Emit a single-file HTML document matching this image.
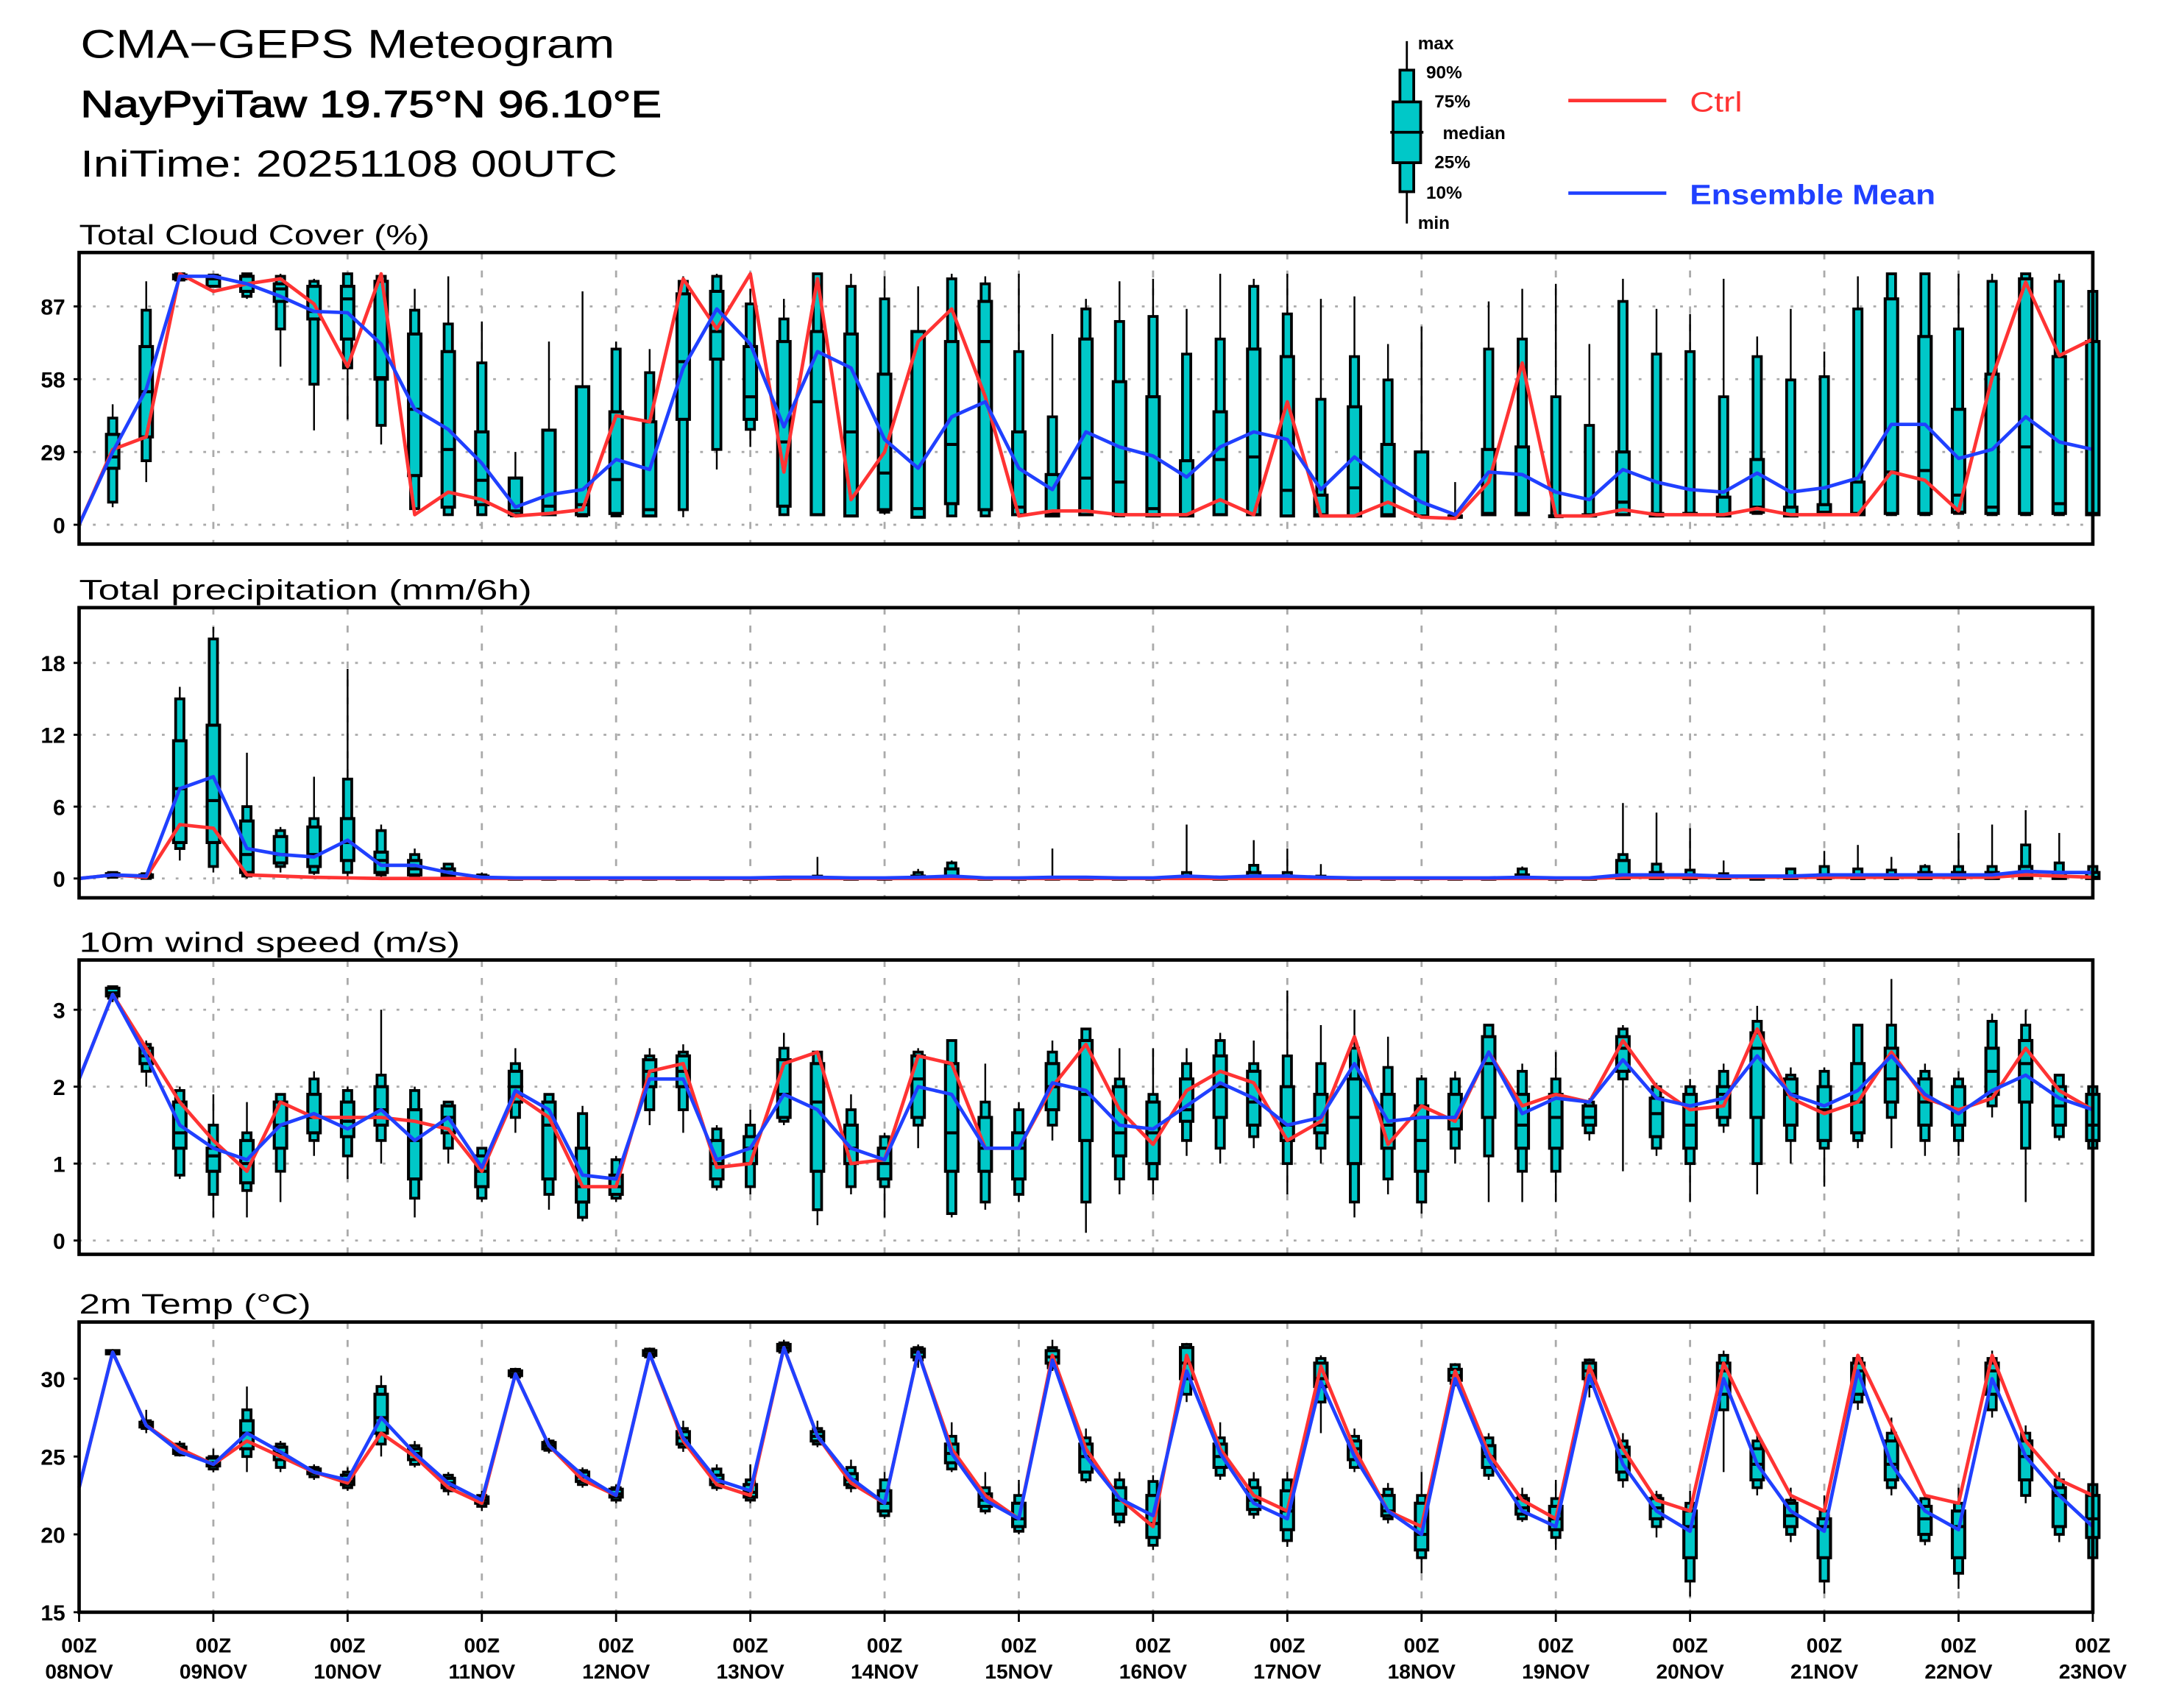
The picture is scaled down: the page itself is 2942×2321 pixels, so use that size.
<!DOCTYPE html>
<html><head><meta charset="utf-8"><style>
html,body{margin:0;padding:0;background:#fff;}
svg{display:block;}
text{font-family:"Liberation Sans",sans-serif;}
</style></head><body>
<svg id="chart" xmlns="http://www.w3.org/2000/svg" width="2942" height="2321" viewBox="0 0 1560 1231" preserveAspectRatio="none">
<g transform="matrix(0.9945,0,0,0.9959,-0.68,-0.25)">
<text x="59" y="42" font-size="29" textLength="387" lengthAdjust="spacingAndGlyphs">CMA−GEPS Meteogram</text>
<text x="59" y="85" font-size="27" stroke="#000" stroke-width="0.6" textLength="421" lengthAdjust="spacingAndGlyphs">NayPyiTaw 19.75°N 96.10°E</text>
<text x="59" y="128" font-size="27" textLength="389" lengthAdjust="spacingAndGlyphs">IniTime: 20251108 00UTC</text>
<g>
<line x1="1020" y1="30" x2="1020" y2="162" stroke="#000" stroke-width="1.5"/>
<rect x="1015" y="51" width="10" height="88" fill="#00c8c8" stroke="#000" stroke-width="2"/>
<rect x="1010" y="74" width="20" height="44" fill="#00c8c8" stroke="#000" stroke-width="2"/>
<line x1="1008" y1="96" x2="1032" y2="96" stroke="#000" stroke-width="2"/>
<g font-size="13" font-weight="bold">
<text x="1028" y="36">max</text><text x="1034" y="57">90%</text><text x="1040" y="78">75%</text>
<text x="1046" y="101">median</text><text x="1040" y="122">25%</text><text x="1034" y="144">10%</text><text x="1028" y="166">min</text></g>
</g>
<g>
<line x1="1137" y1="73" x2="1208" y2="73" stroke="#ff3333" stroke-width="2.5"/>
<text x="1225" y="81" font-size="20" fill="#ff3333" textLength="38" lengthAdjust="spacingAndGlyphs">Ctrl</text></g>
<g>
<line x1="1137" y1="140" x2="1208" y2="140" stroke="#2040ff" stroke-width="2.5"/>
<text x="1225" y="148" font-size="20" font-weight="bold" fill="#2040ff" textLength="178" lengthAdjust="spacingAndGlyphs">Ensemble Mean</text></g>
<g id="plots"></g>
</g>
</svg>
<script>
// ---- Cloud cover (%) ----
const cloudCtrl=[0,30,35,100,93,96,98,88,63,100,4,13,10,3.5,4.5,6,43.5,41,98,78,100,21,98,10,29,73,86,51,3.5,5.5,5.5,4,4,4,10,4,49,3.5,3.5,9,3,2.5,17,64.5,3.5,3.5,6,4,4,4,6.5,4,4,4,21,17.7,5.5,58.6,96.7,67.4,74];
const cloudMean=[0,29,54,99,99,96,91,85,84.5,72,46,38,24.5,7,12,14,26,22,62.5,86,72,39,69,62.5,34,22.5,43,49,22.5,14,37,31,27.4,19,31,37,34,14,27,17,9,4,21,20,13,10,22,17,14,13,20.6,13,14.7,18.6,40,40,26.4,30,43,33,30];
const cloudBoxes=[[7,9,22.5,27,36,42.5,48],[17,25.5,35,53,71,85.5,97],[97,97.5,98,99,99.5,100,100],[94.7,95,95,98,99,99.5,100],[90,91,93,96,99,100,100],[63,78,89,94,96,99,100],[37.6,56,82,85,95,97,98],[42,62.5,74,90,95,100,100],[32,39.6,58,58.6,97,99,100],[6,6.4,19.6,46,76,85.5,94],
[3.5,4,7,30,69,80,99],[3.5,4,8,17.7,37,64.5,81],[3,3.5,4,5.5,18.6,18.6,29],[3.5,4,4,7.4,37.7,37.7,73],[3,3.5,4,8,55,55,93],[3,3.5,4.5,18,45,70,73],[3,3.5,3.5,6,41,60.6,70],[3,6,42,65,92,97,99],[22,30,66,77,93,99,100],[31,38,42,51,71,88,94],
[3.5,4,7.4,33,73,82,90],[3.5,4,4,49,77,100,100],[3.5,3.5,3.5,37,76,95,100],[4,5,6,20.6,60,90,99],[3,3,3,6.4,77,77,95],[3,3.5,8.4,32,73,98,100],[3,3.5,6,73,89,96,99],[4,4,4,7,37,69,100],[3,3.5,3.5,4.5,20,43,76],[3.5,4,4,18.6,74,86,90],
[3,3.5,4,17,57,81,97],[3,3.5,3.5,6.4,51,83,98],[3,3.5,3.5,4,25.5,68,86],[3.5,4,4,26,45,74,100],[3.5,4,4,27,70,95,98],[3,3.5,3.5,13.7,67,84,100],[3,3.5,3.5,4,11.8,50,90],[3,3.5,3.5,14.7,47,67,91],[3,3.5,3.5,4,32,57.7,72],[3,3.5,3.5,3.5,29,29,79],
[2.5,3,3,3,3.5,4,17],[3.5,4,4,4.5,30,70,89],[3.5,4,4,4.5,31,74,94],[3,3.5,3.5,3.5,3.5,51,96],[3,3.5,3.5,3.5,4,39.6,72],[3.5,4,4,9,29,89,98],[3,3.5,3.5,4,4.5,68,86],[4,4,4,4.5,4.5,69,84],[3,3.5,3.5,4,11,51,98],[4,4.5,5,7,26,67,75],
[3,3.5,3.5,4,7,57.7,86],[3.5,4,4,5,8,59,69],[3.5,4,4,4.5,17,86,99],[3.5,4,4.5,21,90,100,100],[3.5,4,4.5,21.6,75,100,100],[4,4.5,5,11.8,46,78,100],[3.5,4,4.5,7,60,97,100],[3.5,4,4.5,31,98,100,100],[3.5,4,4.5,8.4,67,97,100],[3.5,4,4,4.5,73,93,93]];
const cloudTicks=[0,29,58,87];
// ---- Precipitation (mm/6h) ----
const precCtrl=[0,0.3,0.1,4.5,4.2,0.3,0.2,0.1,0.05,0,0,0,0,0,0,0,0,0,0,0,0,0,0,0,0,0,0,0,0,0,0,0,0,0,0,0,0,0,0,0,0,0,0,0,0,0,0.1,0.1,0.1,0.1,0.1,0.1,0.1,0.1,0.1,0.1,0.1,0.1,0.3,0.2,0.1];
const precMean=[0,0.3,0.2,7.5,8.5,2.5,2,1.8,3.2,1.1,1.1,0.5,0.1,0.05,0.05,0.05,0.05,0.05,0.05,0.05,0.05,0.1,0.1,0.05,0.05,0.1,0.2,0.05,0.05,0.1,0.1,0.05,0.05,0.2,0.1,0.2,0.2,0.1,0.05,0.05,0.05,0.05,0.05,0.1,0.05,0.05,0.3,0.3,0.3,0.2,0.2,0.2,0.3,0.3,0.3,0.3,0.3,0.3,0.6,0.5,0.5];
const Z=[0,0,0,0,0,0,0.1];
const precBoxes=[[0,0.1,0.2,0.3,0.4,0.5,0.5],[0,0,0.1,0.2,0.3,0.4,0.5],[1.5,2.5,3,7.5,11.5,15,16],[0.5,1,3,6.5,12.8,20,21],[0,0.2,0.5,2,4.8,6,10.5],[0.5,1,1.3,2,3.5,4,4.3],[0.3,0.5,1,2,4.3,5,8.5],[0.2,0.5,1.5,3,5,8.3,17.5],[0,0.3,0.5,1.5,2.2,4,4.5],[0,0.1,0.3,0.8,1.5,2,2.5],
[0,0,0.1,0.3,0.8,1.2,1.3],[0,0,0,0.05,0.2,0.3,0.5],Z,Z,Z,Z,Z,Z,Z,Z,
Z,[0,0,0,0,0.1,0.2,1.8],Z,Z,[0,0,0,0,0.2,0.5,0.8],[0,0,0,0.1,0.8,1.3,1.5],Z,Z,[0,0,0,0,0,0.1,2.5],Z,
Z,Z,[0,0,0,0,0.1,0.5,4.5],Z,[0,0,0,0.1,0.5,1.1,3.2],[0,0,0,0,0.2,0.5,2.5],[0,0,0,0,0.1,0.2,1.2],Z,Z,Z,
Z,Z,[0,0,0,0,0.3,0.8,1],Z,Z,[0,0,0,0.3,1.5,2,6.3],[0,0,0,0.1,0.5,1.2,5.5],[0,0,0,0,0.3,0.7,4.2],[0,0,0,0,0.2,0.4,1.5],Z,
[0,0,0,0,0.2,0.8,0.8],[0,0,0,0,0.3,1,2.3],[0,0,0,0,0.3,0.8,2.8],[0,0,0,0,0.3,0.7,1.8],[0,0,0,0,0.5,1,1.2],[0,0,0,0.1,0.5,1,3.8],[0,0,0,0.1,0.5,1,4.5],[0,0,0,0.3,1,2.8,5.7],[0,0,0,0.1,0.5,1.3,3.8],[0,0,0,0.1,0.5,1,1.7]];
const precTicks=[0,6,12,18];
// ---- 10m wind speed (m/s) ----
const windCtrl=[2.1,3.2,2.5,1.8,1.3,0.9,1.8,1.6,1.6,1.6,1.55,1.45,0.9,1.9,1.6,0.7,0.7,2.2,2.3,0.95,1.0,2.3,2.45,1.0,1.05,2.4,2.3,1.2,1.2,2.0,2.55,1.7,1.25,1.95,2.2,2.05,1.3,1.55,2.65,1.25,1.75,1.55,2.45,1.75,1.9,1.8,2.6,2.0,1.7,1.75,2.75,1.85,1.65,1.8,2.45,1.85,1.7,1.85,2.5,1.95,1.7];
const windMean=[2.1,3.2,2.4,1.5,1.2,1.05,1.5,1.65,1.45,1.7,1.3,1.6,0.95,1.95,1.7,0.85,0.8,2.1,2.1,1.05,1.2,1.9,1.7,1.2,1.05,2.0,1.9,1.2,1.2,2.05,1.95,1.5,1.45,1.75,2.05,1.85,1.5,1.6,2.3,1.55,1.6,1.6,2.45,1.65,1.85,1.8,2.35,1.85,1.75,1.85,2.4,1.9,1.75,1.95,2.4,1.9,1.65,1.95,2.15,1.85,1.7];
const windBoxes=[[3.1,3.15,3.18,3.22,3.28,3.3,3.3],[2.0,2.2,2.3,2.4,2.5,2.55,2.6],[0.8,0.85,1.2,1.4,1.8,1.95,2.0],[0.3,0.6,0.9,1.1,1.2,1.5,1.9],[0.3,0.65,0.75,1.0,1.3,1.4,1.8],[0.5,0.9,1.2,1.5,1.8,1.9,1.9],[1.1,1.3,1.4,1.6,1.9,2.1,2.2],[0.8,1.1,1.35,1.55,1.8,1.95,2.0],[1.0,1.3,1.5,1.7,2.0,2.15,3.0],[0.3,0.55,0.8,1.3,1.7,1.95,2.0],
[1.0,1.2,1.4,1.6,1.75,1.8,1.8],[0.5,0.55,0.7,0.9,1.1,1.2,1.2],[1.4,1.6,1.8,2.0,2.2,2.3,2.5],[0.4,0.6,0.8,1.5,1.8,1.9,1.9],[0.25,0.3,0.5,0.7,1.2,1.65,1.75],[0.5,0.55,0.6,0.7,0.85,1.05,1.1],[1.5,1.7,2.0,2.2,2.35,2.4,2.5],[1.4,1.7,2.0,2.2,2.4,2.45,2.55],[0.65,0.7,0.8,1.0,1.3,1.45,1.5],[0.6,0.7,1.0,1.2,1.35,1.5,1.7],
[1.5,1.55,1.6,1.9,2.35,2.5,2.7],[0.2,0.4,0.9,1.8,2.3,2.45,2.45],[0.6,0.7,1.0,1.2,1.5,1.7,1.9],[0.3,0.7,0.8,1.0,1.2,1.35,1.4],[1.2,1.5,1.6,2.1,2.4,2.45,2.5],[0.3,0.35,0.9,1.4,2.3,2.6,2.6],[0.4,0.5,0.9,1.2,1.6,1.8,2.3],[0.5,0.6,0.8,1.2,1.4,1.7,1.8],[1.3,1.5,1.7,2.0,2.3,2.45,2.6],[0.1,0.5,1.3,1.9,2.6,2.75,2.75],
[0.6,0.8,1.1,1.4,2.0,2.1,2.5],[0.6,0.8,1.0,1.4,1.8,1.9,2.5],[1.1,1.3,1.55,1.7,2.1,2.3,2.5],[1.0,1.2,1.6,2.0,2.4,2.6,2.7],[1.2,1.35,1.5,1.8,2.2,2.3,2.6],[0.6,1.0,1.3,1.5,2.0,2.4,3.25],[1.0,1.2,1.4,1.5,1.9,2.3,2.8],[0.3,0.5,1.0,1.6,2.1,2.5,3.0],[0.6,0.8,1.2,1.5,1.9,2.25,2.65],[0.35,0.5,0.9,1.3,1.75,2.1,2.15],
[1.0,1.2,1.45,1.6,1.9,2.1,2.2],[0.5,1.1,1.6,2.3,2.65,2.8,2.8],[0.5,0.9,1.2,1.5,1.9,2.2,2.3],[0.5,0.9,1.2,1.6,1.9,2.1,2.45],[1.3,1.4,1.5,1.6,1.75,1.8,1.85],[0.9,2.1,2.2,2.5,2.65,2.75,2.8],[1.1,1.2,1.35,1.65,1.85,2.0,2.05],[0.5,1.0,1.2,1.5,1.9,2.0,2.1],[1.4,1.5,1.6,1.9,2.0,2.2,2.3],[0.6,1.0,1.6,2.5,2.7,2.85,3.05],
[1.0,1.3,1.5,1.9,2.1,2.15,2.25],[0.7,1.2,1.3,1.7,2.0,2.2,2.25],[1.2,1.3,1.4,1.8,2.3,2.8,2.8],[1.2,1.6,1.8,2.1,2.5,2.8,3.4],[1.1,1.3,1.5,1.8,2.1,2.2,2.3],[1.1,1.3,1.5,1.7,2.0,2.1,2.2],[1.6,1.75,1.9,2.2,2.5,2.85,2.95],[0.5,1.2,1.8,2.3,2.6,2.8,3.0],[1.3,1.35,1.5,1.75,2.0,2.15,2.15],[1.1,1.2,1.3,1.5,1.9,2.0,2.05]];
const windTicks=[0,1,2,3];
// ---- 2m temperature (°C) ----
const tempCtrl=[23,31.7,27,25.5,24.5,26,25,24,23.3,26.5,25,23,22,30.3,25.7,23.5,22.5,31.6,26,23.2,22.5,32,26.3,23.3,22,31.7,25.5,22.5,21,31.5,25.5,22.3,20.5,31.5,25.5,22.5,21.5,30.8,25.5,21.5,20.5,30.5,25.2,22.2,21,30.8,25.5,22.2,21.5,31,26.5,22.5,21.5,31.5,27,22.5,22,31.5,26,23.5,22.5];
const tempMean=[23,31.7,27,25.3,24.5,26.5,25.3,24,23.5,27.5,25.2,23.3,22.2,30.3,25.7,23.8,22.5,31.6,26.2,23.5,22.8,32,26.3,23.6,22,31.7,25.2,22.2,21,31.2,25,22.3,21.2,30.5,25.2,22,21,29.8,25,21.5,20,30,24.8,21.5,20.5,30.2,24.5,21.5,20.2,30,24.5,21.5,20.2,30.5,24.5,21.5,20.3,30,25,22.5,20.5];
const tempBoxes=[[31.5,31.6,31.6,31.7,31.8,31.8,31.9],[26.5,26.8,26.9,27,27.2,27.3,28],[25,25.1,25.2,25.4,25.6,25.8,26],[24,24.2,24.4,24.6,24.9,25,25.5],[24,25,25.5,26.5,27.3,28,29.5],[24,24.3,24.8,25.2,25.6,25.8,26],[23.5,23.7,23.9,24,24.2,24.3,24.5],[22.8,23,23.2,23.4,23.8,24,24.3],[25,25.8,26.5,27.5,29,29.5,30.2],[24.3,24.5,24.8,25.2,25.5,25.7,26],
[22.5,22.8,23,23.3,23.6,23.8,24],[21.5,21.8,22,22.2,22.4,22.5,22.8],[30,30.1,30.2,30.3,30.5,30.6,30.7],[25.2,25.4,25.5,25.7,25.9,26,26.2],[23,23.2,23.4,23.7,24,24.1,24.3],[22,22.2,22.4,22.6,22.9,23,23.2],[31.2,31.4,31.5,31.6,31.8,31.9,32],[25.3,25.6,25.8,26.2,26.6,26.8,27.3],[22.8,23,23.2,23.5,23.8,24.2,24.5],[22,22.2,22.4,22.7,23.2,23.5,24.5],
[31.6,31.7,31.8,32,32.2,32.3,32.5],[25.6,25.8,26,26.3,26.6,26.8,27.3],[22.7,23,23.2,23.5,23.9,24.3,24.8],[21,21.2,21.5,22,22.8,23.5,24],[30.7,31.2,31.4,31.7,31.9,32,32.2],[24,24.2,24.6,25.2,25.8,26.3,27.2],[21.3,21.5,21.8,22.2,22.6,23,24],[20,20.2,20.5,21,22,22.5,23.5],[30.5,30.7,31,31.4,31.8,32,32.5],[23.3,23.5,24,25,25.8,26.2,26.8],
[20.5,20.8,21.3,22.2,23,23.5,24],[19,19.3,19.8,20.7,22.5,23.4,23.8],[28.5,29,30,31,32,32.2,32.3],[23.5,23.8,24.3,25,25.8,26.2,27.2],[21,21.3,21.6,22.2,23,23.5,24],[19.2,19.6,20.3,21.5,22.8,23.5,24],[26.5,28.5,29.5,30,31,31.3,31.5],[24,24.3,24.8,25.5,26,26.3,26.8],[20.7,21,21.2,21.5,22.5,22.9,23.3],[17.5,18.5,19,20,22,22.5,24],
[29.5,29.7,29.9,30.2,30.6,30.9,31],[23.5,23.8,24.3,25,25.7,26.2,26.5],[20.8,21,21.3,21.7,22.3,22.5,23],[19,19.8,20.3,21,21.8,22.3,23.5],[28.8,29.5,30,30.5,31,31.2,31.3],[23,23.5,24,25,25.6,26,26.5],[19.8,20.5,21,21.7,22.3,22.5,22.8],[16,17,18.5,20.5,21.5,22,22.8],[24,28,29,30.5,31,31.5,31.8],[22.5,23,23.5,24.5,25.5,26,26.5],
[19.5,20,20.5,21.2,22,22.2,23],[16.2,17,18.5,20.5,21,21.5,22.5],[28,28.5,29,30.5,31,31.3,31.5],[22.5,23,23.5,24.5,26,26.5,27.5],[19.3,19.6,20,21,21.8,22.3,22.5],[16.5,17.5,18.5,20.5,21.5,22,23],[27.5,28,29,30.5,31,31.3,31.8],[22,22.5,23.5,25,26,26.5,27],[19.5,20,20.5,22.5,23,23.5,24],[17,18.5,19.8,21,22.5,23.2,23.5]];
const tempTicks=[15,20,25,30];
const dayLabels=["08NOV","09NOV","10NOV","11NOV","12NOV","13NOV","14NOV","15NOV","16NOV","17NOV","18NOV","19NOV","20NOV","21NOV","22NOV","23NOV"];

const NS="http://www.w3.org/2000/svg";
const X0=58,X1=1517,NSTEP=60;
function xs(i){return X0+(X1-X0)*i/NSTEP;}
function mk(tag,attrs,parent){const e=document.createElementNS(NS,tag);for(const k in attrs)e.setAttribute(k,attrs[k]);parent.appendChild(e);return e;}
const root=document.getElementById('plots');

const panels=[
 {name:'cloud',title:'Total Cloud Cover (%)',tlen:254,top:183,bot:394,v0:0,y0:380,v1:87,y1:222,ticks:cloudTicks,hgrid:true,ctrl:cloudCtrl,mean:cloudMean,boxes:cloudBoxes},
 {name:'precip',title:'Total precipitation (mm/6h)',tlen:328,top:440,bot:650,v0:0,y0:636,v1:18,y1:480,ticks:precTicks,hgrid:true,ctrl:precCtrl,mean:precMean,boxes:precBoxes},
 {name:'wind',title:'10m wind speed (m/s)',tlen:276,top:695,bot:908,v0:0,y0:898,v1:3,y1:731,ticks:windTicks,hgrid:true,ctrl:windCtrl,mean:windMean,boxes:windBoxes},
 {name:'temp',title:'2m Temp (°C)',tlen:168,top:957,bot:1167,v0:15,y0:1167,v1:30,y1:998,ticks:tempTicks,hgrid:false,ctrl:tempCtrl,mean:tempMean,boxes:tempBoxes}
];

panels.forEach(p=>{
 const ys=v=>p.y0+(v-p.v0)*(p.y1-p.y0)/(p.v1-p.v0);
 const g=mk('g',{},root);
 
 
 const t=mk('text',{x:58,y:p.top-6,'font-size':20,textLength:p.tlen,lengthAdjust:'spacingAndGlyphs'},g);
 t.textContent=p.title;
 
 
 for(let d=1;d<15;d++){
  const l=mk('line',{x1:xs(d*4),x2:xs(d*4),y1:p.top,y2:p.bot,stroke:'#aaa','stroke-width':1.5,'stroke-dasharray':'5,8'},g);
  
  
 }
 p.ticks.forEach(v=>{
  const y=ys(v);
  if(p.hgrid){
   const hl=mk('line',{x1:X0,x2:X1,y1:y,y2:y,stroke:'#aaa','stroke-width':1.5,'stroke-dasharray':'2,8'},g);
   
   
  }
  mk('line',{x1:X0-4,x2:X0,y1:y,y2:y,stroke:'#000','stroke-width':1.5},g);
  const tl=mk('text',{x:X0-10,y:y+6,'font-size':16,'font-weight':'bold','text-anchor':'end'},g);
  tl.textContent=v;
  
  
 });
 p.boxes.forEach((b,k)=>{
  const i=k+1,x=xs(i);
  const bg=mk('g',{},g);
  
  
  mk('line',{x1:x,x2:x,y1:ys(b[0]),y2:ys(b[6]),stroke:'#000','stroke-width':1.3},bg);
  const a=ys(b[5]),c=ys(b[1]);
  mk('rect',{x:x-3,y:Math.min(a,c),width:6,height:Math.max(Math.abs(c-a),0.5),fill:'#00c8c8',stroke:'#000','stroke-width':2},bg);
  const a2=ys(b[4]),c2=ys(b[2]);
  mk('rect',{x:x-4.5,y:Math.min(a2,c2),width:9,height:Math.max(Math.abs(c2-a2),0.5),fill:'#00c8c8',stroke:'#000','stroke-width':2.2},bg);
  mk('line',{x1:x-5,x2:x+5,y1:ys(b[3]),y2:ys(b[3]),stroke:'#000','stroke-width':2.2},bg);
 });
 const line=(arr,col,nm)=>{
  const pl=mk('polyline',{points:arr.map((v,i)=>xs(i)+','+ys(v)).join(' '),fill:'none',stroke:col,'stroke-width':2.5,'stroke-linejoin':'round'},g);
  
  
 };
 line(p.ctrl,'#ff3333',p.name+'-ctrl-line');
 line(p.mean,'#2040ff',p.name+'-mean-line');
 const fr=mk('rect',{x:X0,y:p.top,width:X1-X0,height:p.bot-p.top,fill:'none',stroke:'#000','stroke-width':2.5},g);
 
 
});
dayLabels.forEach((lab,d)=>{
 const x=xs(d*4);
 mk('line',{x1:x,x2:x,y1:1167,y2:1174,stroke:'#000','stroke-width':1.5},root);
 const t1=mk('text',{x:x,y:1196,'font-size':15,'font-weight':'bold','text-anchor':'middle'},root);
 t1.textContent='00Z';
 
 
 const t2=mk('text',{x:x,y:1215,'font-size':15,'font-weight':'bold','text-anchor':'middle'},root);
 t2.textContent=lab;
 
 
});
</script>
</body></html>
